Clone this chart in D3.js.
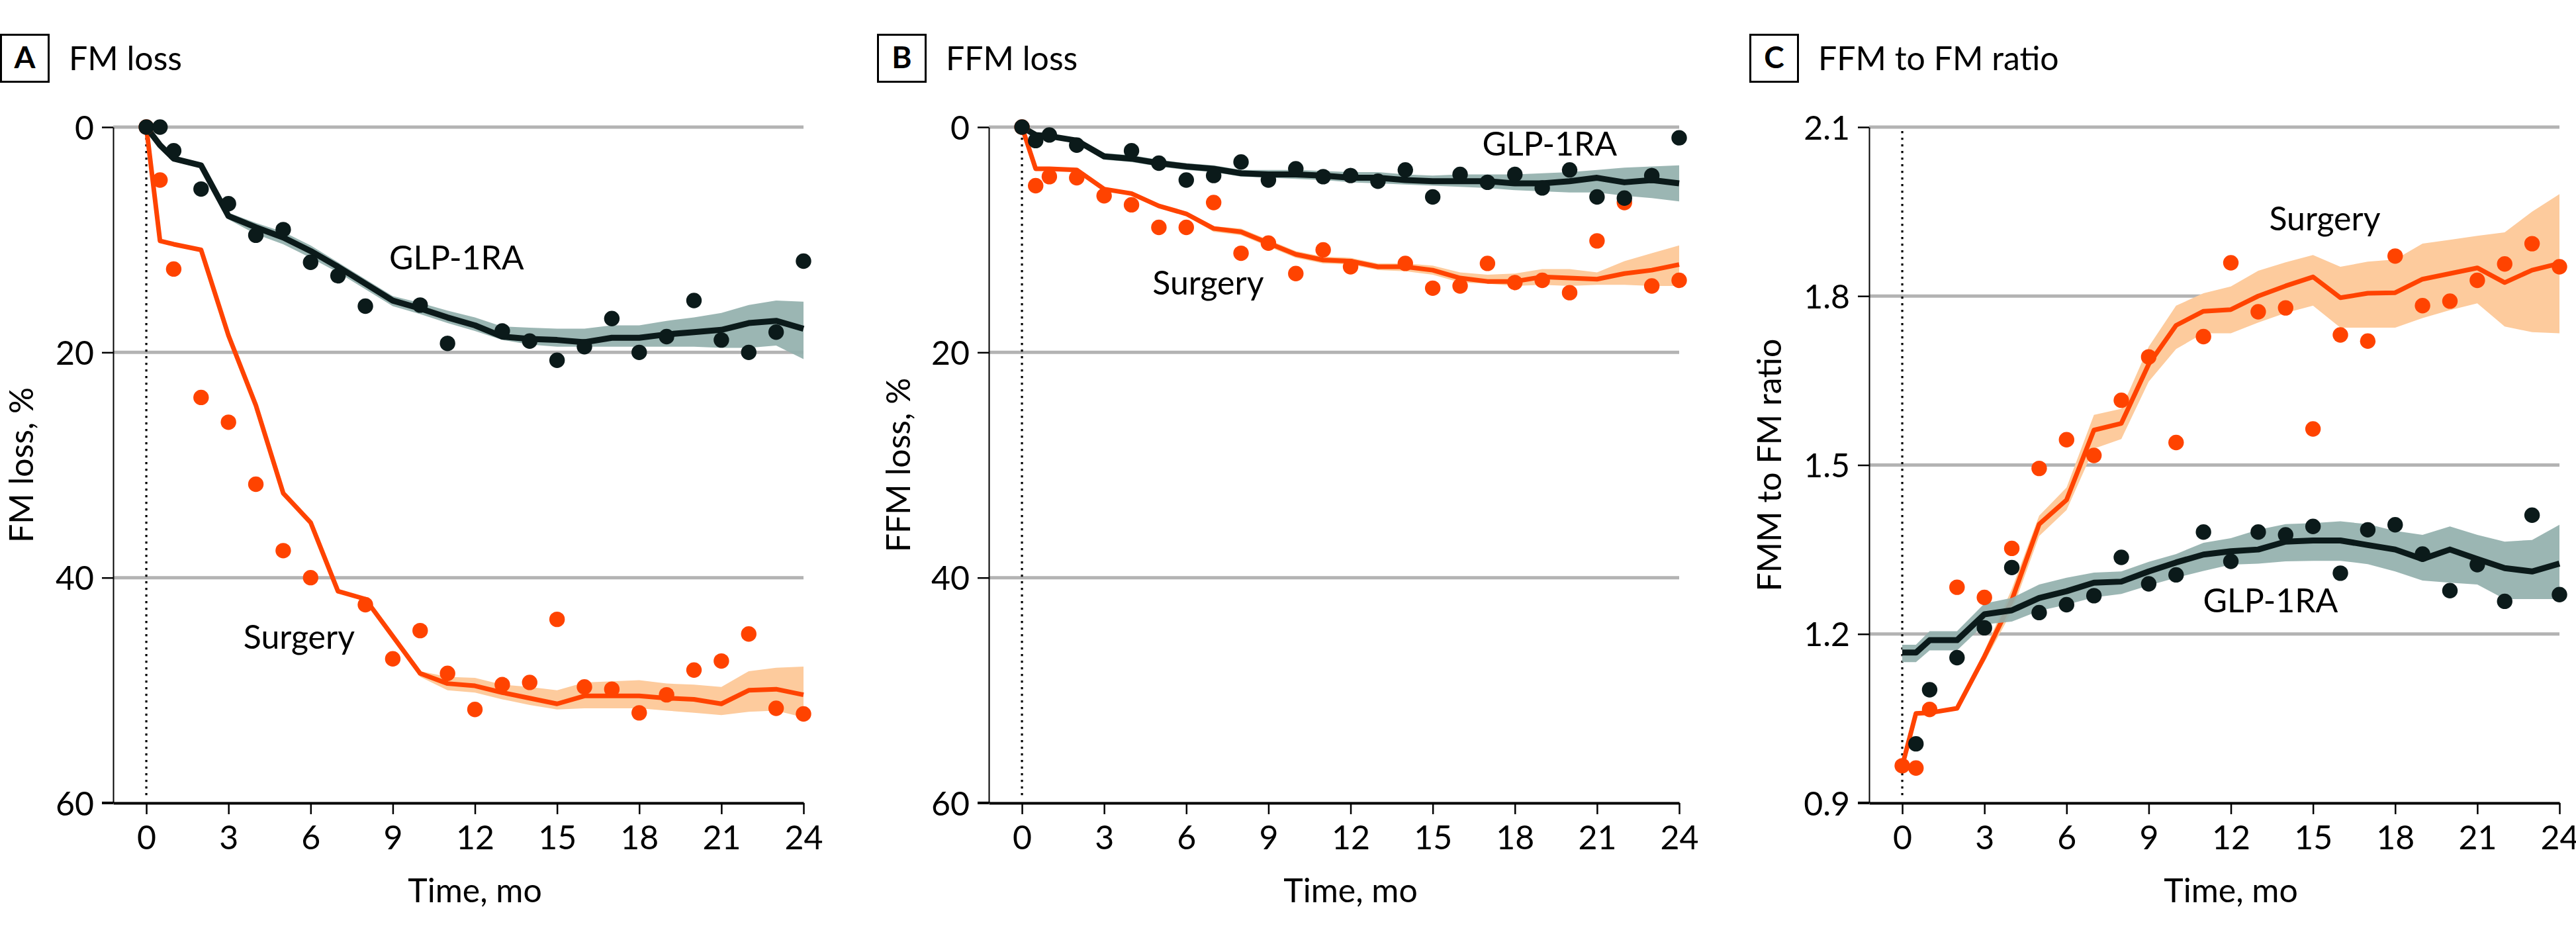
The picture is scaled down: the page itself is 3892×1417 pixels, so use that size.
<!DOCTYPE html>
<html><head><meta charset="utf-8">
<script src="https://cdn.jsdelivr.net/npm/d3@7"></script>
<style>
html,body{margin:0;padding:0;background:#fff;}
svg{display:block;}
</style></head><body>
<svg id="chart" width="3892" height="1417"></svg>
<script>
// ---------------- DATA ----------------
const months = [0,0.5,1,2,3,4,5,6,7,8,9,10,11,12,13,14,15,16,17,18,19,20,21,22,23,24];
const xTickValues = [0,3,6,9,12,15,18,21,24];
const fmTicks = [0,20,40,60];
const ffmTicks = [0,20,40,60];
const ratioTicks = [2.1,1.8,1.5,1.2,0.9];

// Panel A: FM loss, %
const fmGlpMean = [0,1.6,2.8,3.4,7.9,8.9,9.8,11.0,12.4,13.9,15.4,16.1,16.9,17.6,18.6,18.8,18.9,19.1,18.7,18.7,18.4,18.2,18.0,17.4,17.2,17.9];
const fmGlpLow  = [0,1.4,2.6,3.2,7.6,8.5,9.3,10.5,12.0,13.5,15.0,15.6,16.3,16.9,17.7,17.8,17.9,17.9,17.6,17.6,17.2,16.9,16.5,15.8,15.4,15.5];
const fmGlpHigh = [0,1.8,3.0,3.6,8.2,9.5,10.4,11.6,12.9,14.4,15.9,16.6,17.4,18.1,18.9,19.3,19.5,19.5,19.5,19.5,19.5,19.5,19.6,19.6,19.4,20.6];
const fmGlpObs  = [0,0,2.1,5.5,6.8,9.6,9.1,12.0,13.2,15.9,null,15.8,19.2,null,18.1,19.0,20.7,19.5,17.0,20.0,18.6,15.4,18.9,20.0,18.2,11.9];
const fmSurgMean = [0,10.1,10.4,10.9,18.5,24.7,32.5,35.1,41.2,41.9,45.2,48.5,49.4,49.6,50.2,50.7,51.2,50.5,50.5,50.5,50.7,50.8,51.2,50.0,49.9,50.4];
const fmSurgLow  = [null,null,null,null,null,null,null,null,null,null,45.0,48.3,48.8,48.9,49.5,49.7,50.0,49.3,49.2,49.1,49.4,49.5,49.7,48.3,48.0,47.9];
const fmSurgHigh = [null,null,null,null,null,null,null,null,null,null,45.4,48.8,50.0,50.2,50.8,51.3,51.7,51.6,51.6,51.6,51.8,52.0,52.2,51.9,51.8,52.4];
const fmSurgObs  = [0,4.7,12.6,24.0,26.2,31.7,37.6,40.0,null,42.4,47.2,44.7,48.5,51.7,49.5,49.3,43.7,49.7,49.9,52.0,50.4,48.2,47.4,45.0,51.6,52.1];

// Panel B: FFM loss, %
const ffmGlpMean = [0,0.7,0.8,1.2,2.6,2.8,3.2,3.5,3.7,4.1,4.2,4.2,4.3,4.5,4.5,4.7,4.8,4.8,4.8,5.0,5.0,4.8,4.5,4.9,4.7,5.0];
const ffmGlpLow  = [0,0.5,0.6,1.0,2.3,2.5,2.9,3.2,3.4,3.8,3.8,3.8,3.9,4.0,4.0,4.2,4.3,4.2,4.2,4.2,4.1,4.0,3.8,3.6,3.5,3.4];
const ffmGlpHigh = [0,0.9,1.0,1.4,2.9,3.1,3.5,3.8,4.0,4.4,4.5,4.6,4.7,4.9,5.0,5.1,5.2,5.3,5.4,5.6,5.7,5.8,5.8,6.1,6.3,6.6];
const ffmGlpObs  = [0,1.2,0.7,1.6,null,2.1,3.2,4.7,4.3,3.1,4.7,3.7,4.4,4.3,4.8,3.8,6.2,4.2,4.9,4.2,5.4,3.8,6.2,6.3,4.3,0.95];
const ffmSurgMean = [0,3.7,3.7,3.8,5.5,5.9,7.0,7.7,9.0,9.3,10.3,11.3,11.8,11.9,12.4,12.4,12.7,13.4,13.7,13.7,13.3,13.4,13.5,13.0,12.7,12.2];
const ffmSurgLow  = [0,3.6,3.6,3.7,5.4,5.8,6.9,7.5,8.8,9.0,10.0,11.0,11.5,11.6,12.1,12.1,12.3,12.9,13.1,13.0,12.6,12.6,12.9,11.9,11.2,10.5];
const ffmSurgHigh = [0,3.8,3.8,3.9,5.6,6.0,7.1,7.9,9.3,9.6,10.6,11.6,12.1,12.2,12.7,12.8,13.1,13.8,13.9,14.1,14.0,14.1,14.0,14.0,14.1,14.1];
const ffmSurgObs  = [0,5.2,4.4,4.5,6.1,6.9,8.9,8.9,6.7,11.2,10.3,13.0,10.9,12.4,null,12.1,14.3,14.1,12.1,13.8,13.6,14.7,10.1,6.7,14.1,13.6];

// Panel C: FFM to FM ratio
const ratioGlpMean = [1.167,1.167,1.189,1.189,1.235,1.242,1.264,1.276,1.291,1.293,1.311,1.327,1.341,1.347,1.350,1.364,1.366,1.366,1.358,1.350,1.333,1.350,1.333,1.317,1.311,1.325];
const ratioGlpLow  = [1.150,1.150,1.171,1.171,1.217,1.222,1.241,1.252,1.265,1.271,1.286,1.300,1.312,1.323,1.325,1.329,1.330,1.330,1.324,1.311,1.295,1.291,1.288,1.262,1.262,1.262];
const ratioGlpHigh = [1.181,1.181,1.205,1.205,1.254,1.264,1.288,1.300,1.309,1.311,1.328,1.342,1.362,1.370,1.385,1.395,1.397,1.400,1.395,1.383,1.376,1.391,1.376,1.364,1.367,1.394];
const ratioGlpObs  = [null,1.005,1.101,1.158,1.211,1.318,1.238,1.252,1.268,1.336,1.289,1.305,1.381,1.329,1.381,1.376,1.391,1.308,1.385,1.394,1.342,1.277,1.323,1.258,1.411,1.270];
const ratioSurgMean = [0.966,1.059,1.060,1.068,1.16,1.26,1.395,1.438,1.562,1.574,1.679,1.748,1.773,1.776,1.800,1.818,1.834,1.797,1.805,1.806,1.830,1.840,1.850,1.824,1.846,1.858];
const ratioSurgLow  = [0.966,1.059,1.060,1.068,1.15,1.24,1.374,1.420,1.529,1.546,1.648,1.706,1.734,1.734,1.753,1.770,1.783,1.744,1.744,1.744,1.761,1.775,1.787,1.746,1.736,1.734];
const ratioSurgHigh = [0.966,1.059,1.060,1.068,1.17,1.28,1.410,1.460,1.589,1.600,1.710,1.783,1.805,1.817,1.845,1.860,1.873,1.852,1.861,1.865,1.893,1.900,1.907,1.913,1.950,1.981];
const ratioSurgObs  = [0.966,0.962,1.066,1.283,1.265,1.352,1.494,1.545,1.517,1.615,1.692,1.540,1.728,1.859,1.772,1.779,1.564,1.731,1.720,1.871,1.783,1.791,1.828,1.857,1.893,1.852];

const panelLetters = ["A","B","C"];
const panelTitles = ["FM loss","FFM loss","FFM to FM ratio"];
const yTitles = ["FM loss, %","FFM loss, %","FMM to FM ratio"];
const seriesNames = ["GLP-1RA","Surgery"];
const xTitle = "Time, mo";

// ---------------- LAYOUT / STYLE ----------------
const TOP = 192, BOT = 1213, PLOT_W = 1043;
const C_BLACK = "#0b1a1a", C_ORANGE = "#ff4300";
const BAND_GLP = "#93b0ad", BAND_SURG = "#fdcb9d", GRID = "#b3b3b3";
const FONT = "Lato, 'Liberation Sans', Arial, sans-serif";
const FS = 50;

const panels = [
  { axisX: 171, boxX: 0, yLabelOff: 121, yDomain: [0, 60], ticks: fmTicks, fmt: d3.format("d"),
    glp: [fmGlpMean, fmGlpLow, fmGlpHigh, fmGlpObs], surg: [fmSurgMean, fmSurgLow, fmSurgHigh, fmSurgObs],
    glpLabel: [11.33, 12.63], surgLabel: [5.58, 46.3] },
  { axisX: 1494, boxX: 1325, yLabelOff: 119, yDomain: [0, 60], ticks: ffmTicks, fmt: d3.format("d"),
    glp: [ffmGlpMean, ffmGlpLow, ffmGlpHigh, ffmGlpObs], surg: [ffmSurgMean, ffmSurgLow, ffmSurgHigh, ffmSurgObs],
    glpLabel: [19.27, 2.53], surgLabel: [6.8, 14.86] },
  { axisX: 2824, boxX: 2643, yLabelOff: 133, yDomain: [2.1, 0.9], ticks: ratioTicks, fmt: d3.format(".1f"),
    glp: [ratioGlpMean, ratioGlpLow, ratioGlpHigh, ratioGlpObs], surg: [ratioSurgMean, ratioSurgLow, ratioSurgHigh, ratioSurgObs],
    glpLabel: [13.45, 1.238], surgLabel: [15.43, 1.917] }
];

const svg = d3.select("#chart");
svg.append("rect").attr("width", 3892).attr("height", 1417).attr("fill", "#fff");

panels.forEach((p, i) => {
  const g = svg.append("g");
  const x = d3.scaleLinear().domain([-1.21, 24]).range([p.axisX, p.axisX + PLOT_W]);
  const y = d3.scaleLinear().domain(p.yDomain).range([TOP, BOT]);

  // gridlines
  g.append("g").selectAll("line").data(p.ticks.filter(d => d !== p.yDomain[1])).join("line")
    .attr("x1", p.axisX).attr("x2", x(24))
    .attr("y1", d => y(d)).attr("y2", d => y(d))
    .attr("stroke", GRID).attr("stroke-width", 5);

  // dotted baseline at t = 0
  g.append("line").attr("x1", x(0)).attr("x2", x(0)).attr("y1", TOP + 6).attr("y2", BOT - 8)
    .attr("stroke", "#000").attr("stroke-width", 3.2).attr("stroke-dasharray", "3.2,6.8");

  const mk = (arr) => months.map((t, k) => ({ t, mean: arr[0][k], lo: arr[1][k], hi: arr[2][k], obs: arr[3][k] }));
  const glp = mk(p.glp), surg = mk(p.surg);

  const area = d3.area().defined(d => d.lo != null && d.hi != null)
    .x(d => x(d.t)).y0(d => y(d.lo)).y1(d => y(d.hi));
  const line = d3.line().defined(d => d.mean != null).x(d => x(d.t)).y(d => y(d.mean));

  g.append("path").datum(surg).attr("d", area).attr("fill", BAND_SURG);
  g.append("path").datum(surg).attr("d", line).attr("fill", "none")
    .attr("stroke", C_ORANGE).attr("stroke-width", 7).attr("stroke-linejoin", "round");
  g.append("path").datum(glp).attr("d", area).attr("fill", BAND_GLP).attr("fill-opacity", 0.92);
  g.append("path").datum(glp).attr("d", line).attr("fill", "none")
    .attr("stroke", C_BLACK).attr("stroke-width", 9).attr("stroke-linejoin", "round");

  g.append("g").selectAll("circle").data(surg.filter(d => d.obs != null)).join("circle")
    .attr("cx", d => x(d.t)).attr("cy", d => y(d.obs)).attr("r", 11.7).attr("fill", C_ORANGE);
  g.append("g").selectAll("circle").data(glp.filter(d => d.obs != null)).join("circle")
    .attr("cx", d => x(d.t)).attr("cy", d => y(d.obs)).attr("r", 11.7).attr("fill", C_BLACK);

  // y axis
  const ya = g.append("g").attr("transform", `translate(${p.axisX},0)`)
    .call(d3.axisLeft(y).tickValues(p.ticks).tickFormat(p.fmt).tickSize(17).tickSizeOuter(0).tickPadding(12));
  ya.select(".domain").attr("stroke", "#000").attr("stroke-width", 2);
  ya.selectAll(".tick line").attr("stroke", "#000").attr("stroke-width", 2.5);
  ya.selectAll(".tick text").attr("font-size", FS).attr("font-family", FONT).attr("fill", "#000").attr("dy", "0.36em");

  // x axis
  const xa = g.append("g").attr("transform", `translate(0,${BOT})`)
    .call(d3.axisBottom(x).tickValues(xTickValues).tickSize(17).tickSizeOuter(0).tickPadding(17.5));
  xa.select(".domain").attr("stroke", "#000").attr("stroke-width", 4);
  xa.selectAll(".tick line").attr("stroke", "#000").attr("stroke-width", 2.5);
  xa.selectAll(".tick text").attr("font-size", FS).attr("font-family", FONT).attr("fill", "#000");
  g.append("line").attr("x1", p.axisX - 17).attr("x2", p.axisX).attr("y1", BOT).attr("y2", BOT)
    .attr("stroke", "#000").attr("stroke-width", 4);

  // titles
  g.append("rect").attr("x", p.boxX + 1.5).attr("y", 52.5).attr("width", 72).attr("height", 71)
    .attr("fill", "none").attr("stroke", "#000").attr("stroke-width", 3);
  g.append("text").attr("x", p.boxX + 37.5).attr("y", 103).attr("text-anchor", "middle")
    .attr("font-family", FONT).attr("font-weight", "bold").attr("font-size", 46).text(panelLetters[i]);
  g.append("text").attr("x", p.boxX + 104).attr("y", 106)
    .attr("font-family", FONT).attr("font-size", 50).text(panelTitles[i]);

  // axis titles
  g.append("text").attr("transform", `translate(${p.axisX - p.yLabelOff},${(TOP + BOT) / 2}) rotate(-90)`)
    .attr("text-anchor", "middle").attr("font-family", FONT).attr("font-size", FS).text(yTitles[i]);
  g.append("text").attr("x", x(12)).attr("y", 1363).attr("text-anchor", "middle")
    .attr("font-family", FONT).attr("font-size", FS).text(xTitle);

  // series labels
  g.append("text").attr("x", x(p.glpLabel[0])).attr("y", y(p.glpLabel[1])).attr("text-anchor", "middle")
    .attr("font-family", FONT).attr("font-size", FS).text(seriesNames[0]);
  g.append("text").attr("x", x(p.surgLabel[0])).attr("y", y(p.surgLabel[1])).attr("text-anchor", "middle")
    .attr("font-family", FONT).attr("font-size", FS).text(seriesNames[1]);
});
</script>
</body></html>
